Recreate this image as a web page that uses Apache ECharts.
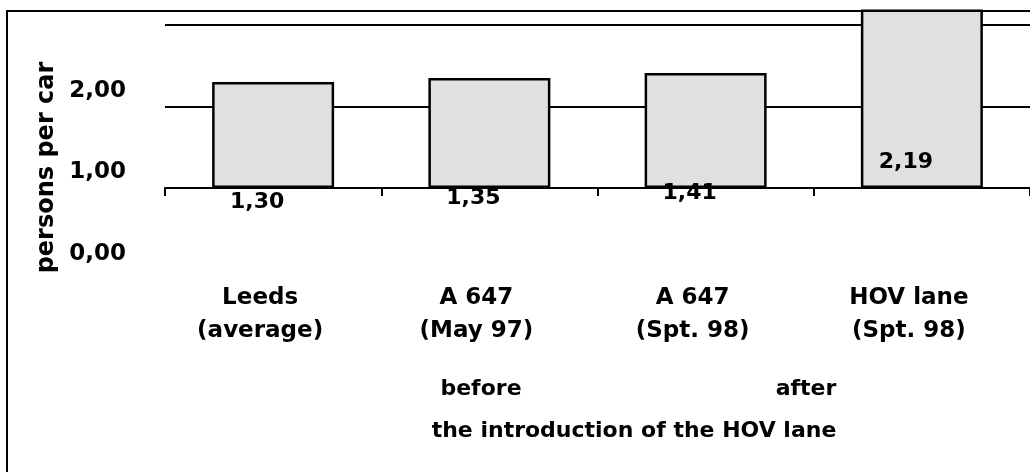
<!DOCTYPE html>
<html>
<head>
<meta charset="utf-8">
<script src="https://cdn.jsdelivr.net/npm/echarts@6/dist/echarts.min.js"></script>
<style>
  html, body { margin: 0; padding: 0; background: #fff; }
  #chart { width: 1030px; height: 472px; }
</style>
</head>
<body>
<div id="chart"></div>
<script>
// Average car occupancy on the A 647 corridor, Leeds
const categories = ['Leeds\n(average)', 'A 647\n(May 97)', 'A 647\n(Spt. 98)', 'HOV lane\n(Spt. 98)'];
const personsPerCar = [1.30, 1.35, 1.41, 2.19];
const yTicks = [0, 1, 2];

const FONT = "'DejaVu Sans', 'Liberation Sans', Arial, sans-serif";
const fmt = v => v.toFixed(2).replace('.', ',');

const chart = echarts.init(document.getElementById('chart'), null, { renderer: 'canvas' });

// vertical shift of the value labels below each bar top
const labelDrop = [136, 136, 136, 169];

chart.setOption({
  backgroundColor: '#fff',
  animation: false,
  textStyle: { fontFamily: FONT },
  grid: [
    { left: 165, right: -7, top: 25, bottom: 284 },
    // companion grid carrying the value scale labels
    { left: 165, right: -7, top: 91, bottom: 218 }
  ],
  xAxis: [
    {
      type: 'category', gridIndex: 0, data: categories,
      axisLine: { lineStyle: { color: '#000', width: 2 } },
      axisTick: { show: true, length: 8, lineStyle: { color: '#000', width: 2 } },
      axisLabel: {
        color: '#000', fontFamily: FONT, fontWeight: 'bold', fontSize: 23,
        lineHeight: 33, margin: 94, interval: 0, padding: [0, 26, 0, 0]
      }
    },
    { type: 'category', gridIndex: 1, data: categories, show: false }
  ],
  yAxis: [
    {
      type: 'value', gridIndex: 0, min: yTicks[0], max: yTicks[yTicks.length - 1], interval: 1,
      axisLine: { show: false }, axisTick: { show: false }, axisLabel: { show: false },
      splitLine: { show: true, lineStyle: { color: '#000', width: 2 } }
    },
    {
      type: 'value', gridIndex: 1, min: yTicks[0], max: yTicks[yTicks.length - 1], interval: 1,
      name: 'persons per car', nameLocation: 'middle', nameRotate: 90, nameGap: 86,
      nameTextStyle: {
        color: '#000', fontFamily: FONT, fontWeight: 'bold', fontSize: 24,
        padding: [0, 0, 0, 10]
      },
      axisLine: { show: false }, axisTick: { show: false }, splitLine: { show: false },
      axisLabel: {
        color: '#000', fontFamily: FONT, fontWeight: 'bold', fontSize: 23, margin: 39,
        formatter: v => fmt(v)
      }
    }
  ],
  series: [{
    type: 'bar', xAxisIndex: 0, yAxisIndex: 0, clip: false,
    barWidth: 122,
    itemStyle: { color: '#e0e0e0', borderColor: '#000', borderWidth: 2.5 },
    data: personsPerCar.map((v, i) => ({
      value: v,
      label: { offset: [-16, labelDrop[i]] }
    })),
    label: {
      show: true, position: 'top', color: '#000', fontFamily: FONT,
      fontWeight: 'bold', fontSize: 22, formatter: p => fmt(p.value)
    }
  }],
  graphic: [
    {
      type: 'rect', z: 100, silent: true,
      shape: { x: 7, y: 11, width: 1100, height: 520 },
      style: { fill: 'none', stroke: '#000', lineWidth: 2 }
    },
    {
      type: 'text', x: 481, y: 389, z: 100,
      style: { text: 'before', fill: '#000', font: "bold 22px " + FONT, align: 'center', verticalAlign: 'middle' }
    },
    {
      type: 'text', x: 806, y: 389, z: 100,
      style: { text: 'after', fill: '#000', font: "bold 22px " + FONT, align: 'center', verticalAlign: 'middle' }
    },
    {
      type: 'text', x: 634, y: 431, z: 100,
      style: { text: 'the introduction of the HOV lane', fill: '#000', font: "bold 22px " + FONT, align: 'center', verticalAlign: 'middle' }
    }
  ]
});
</script>
</body>
</html>
